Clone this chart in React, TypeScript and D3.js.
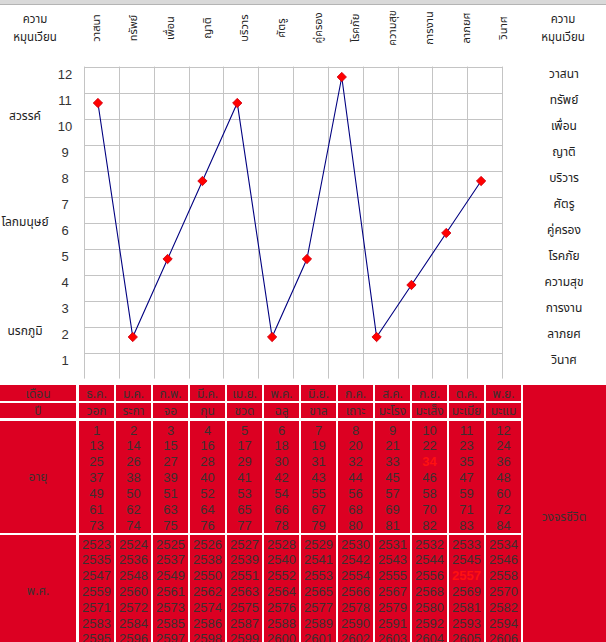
import * as d3 from 'd3';

const categories = ['วาสนา', 'ทรัพย์', 'เพื่อน', 'ญาติ', 'บริวาร', 'ศัตรู', 'คู่ครอง', 'โรคภัย', 'ความสุข', 'การงาน', 'ลาภยศ', 'วินาศ'];
const values = [11, 2, 5, 8, 11, 2, 5, 12, 2, 4, 6, 8];
const yTicks = [1, 2, 3, 4, 5, 6, 7, 8, 9, 10, 11, 12];
const realms = ['สวรรค์', 'โลกมนุษย์', 'นรกภูมิ'];
const realmLevels = [10.4, 6.3, 2.1];

const months = ['ธ.ค.', 'ม.ค.', 'ก.พ.', 'มี.ค.', 'เม.ย.', 'พ.ค.', 'มิ.ย.', 'ก.ค.', 'ส.ค.', 'ก.ย.', 'ต.ค.', 'พ.ย.'];
const zodiac = ['วอก', 'ระกา', 'จอ', 'กุน', 'ชวด', 'ฉลู', 'ขาล', 'เถาะ', 'มะโรง', 'มะเส็ง', 'มะเมีย', 'มะแม'];
const ageRows = [
  [1, 2, 3, 4, 5, 6, 7, 8, 9, 10, 11, 12],
  [13, 14, 15, 16, 17, 18, 19, 20, 21, 22, 23, 24],
  [25, 26, 27, 28, 29, 30, 31, 32, 33, 34, 35, 36],
  [37, 38, 39, 40, 41, 42, 43, 44, 45, 46, 47, 48],
  [49, 50, 51, 52, 53, 54, 55, 56, 57, 58, 59, 60],
  [61, 62, 63, 64, 65, 66, 67, 68, 69, 70, 71, 72],
  [73, 74, 75, 76, 77, 78, 79, 80, 81, 82, 83, 84],
];
const yearRows = [
  [2523, 2524, 2525, 2526, 2527, 2528, 2529, 2530, 2531, 2532, 2533, 2534],
  [2535, 2536, 2537, 2538, 2539, 2540, 2541, 2542, 2543, 2544, 2545, 2546],
  [2547, 2548, 2549, 2550, 2551, 2552, 2553, 2554, 2555, 2556, 2557, 2558],
  [2559, 2560, 2561, 2562, 2563, 2564, 2565, 2566, 2567, 2568, 2569, 2570],
  [2571, 2572, 2573, 2574, 2575, 2576, 2577, 2578, 2579, 2580, 2581, 2582],
  [2583, 2584, 2585, 2586, 2587, 2588, 2589, 2590, 2591, 2592, 2593, 2594],
  [2595, 2596, 2597, 2598, 2599, 2600, 2601, 2602, 2603, 2604, 2605, 2606],
];
const highlightAge = 34;
const highlightYear = 2557;

const W = 606;
const H = 642;
const thai = "Tahoma, 'Noto Sans Thai', 'Noto Sans', 'DejaVu Sans', sans-serif";
const numFont = "'Liberation Sans', Arial, sans-serif";
const RED = '#dc0022';
const INK = '#3c3030';

export default function App() {
  // chart scales
  const x = d3.scaleLinear().domain([0, 12]).range([84, 502]);
  const y = d3.scaleLinear().domain([0, 13]).range([389, 51]);
  const line = d3.line<number>().x((_, i) => x(i + 0.4)).y((d) => y(d));

  // table columns
  const col = d3.scaleBand<number>().domain(d3.range(12)).range([77, 521]).paddingInner(0);
  const cw = col.bandwidth();
  const rowTops = [385, 403, 421, 535];
  const rowBots = [401, 418, 533, 660];

  return (
    <div style={{ position: 'absolute', left: 0, top: 0 }}>
      <svg width={W} height={H} style={{ display: 'block', background: '#fff' }}>
        <rect x={0} y={0} width={W} height={4} fill="#d9d9d9" />
        <line x1={0} x2={W} y1={4.5} y2={4.5} stroke="#b4b4b4" />

        {/* header */}
        <g fontFamily={thai} fontSize={11.5} fill="#222" textAnchor="middle">
          <text x={35} y={23}>ความ</text>
          <text x={35} y={41}>หมุนเวียน</text>
          <text x={563} y={23}>ความ</text>
          <text x={563} y={41}>หมุนเวียน</text>
        </g>
        <g fontFamily={thai} fontSize={11} fill="#222">
          {categories.map((c, i) => (
            <text key={c} transform={`translate(${(col(i) ?? 0) + cw / 2 + 4},28) rotate(-90)`} textAnchor="middle">{c}</text>
          ))}
        </g>

        {/* grid */}
        <g stroke="#c4c4c4" strokeWidth={1}>
          {d3.range(13).map((j) => (
            <line key={'v' + j} x1={Math.round(x(j)) + 0.5} x2={Math.round(x(j)) + 0.5} y1={y(12.4)} y2={y(0.4)} />
          ))}
          {d3.range(1, 13).map((k) => (
            <line key={'h' + k} x1={x(0)} x2={x(12)} y1={Math.round(y(k + 0.4)) + 0.5} y2={Math.round(y(k + 0.4)) + 0.5} />
          ))}
        </g>

        {/* y labels */}
        <g fontFamily={numFont} fontSize={13} fill="#333" textAnchor="middle">
          {yTicks.map((k) => (
            <text key={k} x={65} y={y(k) - 3} dominantBaseline="central">{k}</text>
          ))}
        </g>
        <g fontFamily={thai} fontSize={12} fill="#222" textAnchor="middle">
          {yTicks.map((k) => (
            <text key={k} x={564} y={y(k) - 3} dominantBaseline="central">{categories[12 - k]}</text>
          ))}
          {realms.map((r, i) => (
            <text key={r} x={25} y={y(realmLevels[i]) - 3} dominantBaseline="central">{r}</text>
          ))}
        </g>

        {/* series */}
        <path d={line(values) ?? ''} fill="none" stroke="#000080" strokeWidth={1.1} />
        {values.map((v, i) => (
          <rect key={i} x={-3.3} y={-3.3} width={6.6} height={6.6} fill="#ff0000" stroke="#d00010" strokeWidth={0.8}
            transform={`translate(${x(i + 0.4)},${y(v)}) rotate(45)`} />
        ))}

        {/* table */}
        <g fill={RED}>
          {rowTops.map((t, r) => (
            <rect key={'f' + r} x={0} y={t} width={76} height={rowBots[r] - t} />
          ))}
          {rowTops.map((t, r) =>
            d3.range(12).map((i) => (
              <rect key={`c${r}-${i}`} x={(col(i) ?? 0) + 2} y={t} width={cw - 2} height={rowBots[r] - t} />
            ))
          )}
          <rect x={523} y={385} width={W - 523} height={H - 385} />
        </g>
        <g fontFamily={thai} fontSize={12} fill={INK} textAnchor="middle">
          <text x={38} y={394} dominantBaseline="central">เดือน</text>
          <text x={38} y={411} dominantBaseline="central">ปี</text>
          <text x={38} y={477} dominantBaseline="central">อายุ</text>
          <text x={38} y={591} dominantBaseline="central">พ.ศ.</text>
          <text x={564} y={517} dominantBaseline="central">วงจรชีวิต</text>
          {months.map((m, i) => (
            <text key={m} x={(col(i) ?? 0) + cw / 2 + 1} y={394} dominantBaseline="central">{m}</text>
          ))}
          {zodiac.map((z, i) => (
            <text key={z} x={(col(i) ?? 0) + cw / 2 + 1} y={411} dominantBaseline="central">{z}</text>
          ))}
        </g>
        <g fontFamily={numFont} fontSize={13} textAnchor="middle">
          {ageRows.map((row, k) =>
            row.map((a, i) => (
              <text key={`a${a}`} x={(col(i) ?? 0) + cw / 2 + 1} y={430 + 15.9 * k} dominantBaseline="central"
                fill={a === highlightAge ? '#ff1010' : INK} fontWeight={a === highlightAge ? 'bold' : 'normal'}>{a}</text>
            ))
          )}
          {yearRows.map((row, k) =>
            row.map((yr, i) => (
              <text key={`y${yr}`} x={(col(i) ?? 0) + cw / 2 + 1} y={544 + 15.8 * k} dominantBaseline="central"
                fill={yr === highlightYear ? '#ff1010' : INK} fontWeight={yr === highlightYear ? 'bold' : 'normal'}>{yr}</text>
            ))
          )}
        </g>
      </svg>
    </div>
  );
}
